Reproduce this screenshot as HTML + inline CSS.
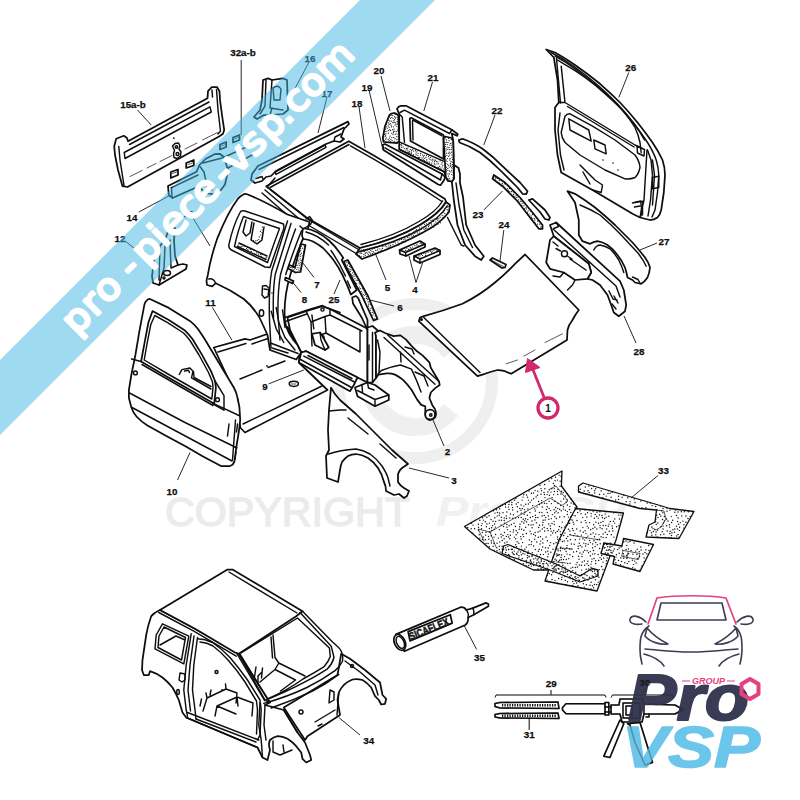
<!DOCTYPE html>
<html lang="fr">
<head>
<meta charset="utf-8">
<title>pro-piece-vsp.com</title>
<style>
html,body{margin:0;padding:0;background:#fff;}
body{width:800px;height:800px;overflow:hidden;position:relative;font-family:"Liberation Sans",sans-serif;}
svg{position:absolute;left:0;top:0;display:block;}
.l{fill:none;stroke:#0e0e0e;stroke-width:1.45;stroke-linecap:round;stroke-linejoin:round;}
.t{fill:none;stroke:#0e0e0e;stroke-width:0.7;stroke-linecap:round;stroke-linejoin:round;}
.k{fill:none;stroke:#0e0e0e;stroke-width:1.6;stroke-linecap:round;stroke-linejoin:round;}
.w{fill:#fff;stroke:#0e0e0e;stroke-width:1.75;stroke-linecap:round;stroke-linejoin:round;}
.ld{fill:none;stroke:#0e0e0e;stroke-width:0.9;}
.n{font-family:"Liberation Sans",sans-serif;font-weight:bold;font-size:9.8px;fill:#0e0e0e;stroke:#0e0e0e;stroke-width:0.25px;text-anchor:middle;}
</style>
</head>
<body>
<svg width="800" height="800" viewBox="0 0 800 800">
<rect width="800" height="800" fill="#fff"/>
<!-- 00_watermark.svg -->
<g id="wm" opacity="1">
<circle cx="415" cy="381" r="77" fill="none" stroke="#efefef" stroke-width="12"/>
<path d="M451 352 A46 46 0 1 0 451 410" fill="none" stroke="#efefef" stroke-width="18"/>
<text x="165" y="525.5" font-family="Liberation Sans, sans-serif" font-size="41.5" fill="#ebebeb" stroke="#ebebeb" stroke-width="1.3" textLength="245" lengthAdjust="spacingAndGlyphs">COPYRIGHT</text>
<text x="436" y="526" font-family="Liberation Sans, sans-serif" font-size="42" font-style="italic" font-weight="bold" fill="#f1f1f1" textLength="190" lengthAdjust="spacingAndGlyphs">Pro VSP</text>
</g>

<!-- 10_tailgate.svg -->
<g id="p15">
<path class="w" d="M114.2 146.2 L116.2 138.8 L123.8 135.8 L127 138 L128 141.2 L207.5 98.2 L208 91.2 L211.8 87 L217 87 L219.5 91.2 L220 100 L222 115 L224.2 130 L223 133.8 L219.5 136.2 L127.5 187 L122.5 186.2 L118 170 L115 155 Z"/>
<path class="l" d="M129.5 144.5 L209 102"/>
<path class="l" d="M124.2 152.5 L210 106.8 L211.2 112 L125 158.5 Z"/>
<path class="l" d="M118.8 146.5 L120 160 L124 185.5"/>
<path class="l" d="M212 90 L212.5 97 M216.5 89.5 L218 110 L220.5 131 L218 134"/>
<path class="t" stroke-width="0.9" d="M160 161.5 L172 155.5 M185 149 L197 143 M202.5 140 L217.5 132.5 M130 176.5 L142 170.5 M147 168 L156 163.5"/>
<path class="l" d="M172.5 146 L175 143.5 L178.5 143 L180 146 L179 149 L181 152 L180.5 156 L177 158.5 L174 157.5 L173.5 153.5 L174.5 150.5 Z"/>
<circle class="l" cx="176.5" cy="147" r="1.2"/><circle class="l" cx="177.5" cy="154" r="1.5"/>
<circle cx="173.8" cy="138.2" r="0.9" fill="#1c1c1c"/>
<!-- 32 squares -->
<path class="w" d="M170.8 172 L178 169.5 L178 175 L170.8 178 Z M186.2 163 L193.8 160 L193.8 165.5 L186.2 168 Z M220 144.5 L226.2 142 L226.2 147 L220 149.5 Z M233 137.5 L239.5 135 L239.5 140 L233 142.5 Z"/>
<path class="t" d="M172.5 173.5 L177 172 M188 164.5 L192.5 163 M221.5 146 L225 144.7 M234.5 139 L238.5 137.5"/>
<!-- 14 bracket -->
<path class="w" d="M168 186 L168.8 195 L172.5 198 L199.5 186 L202.5 190.5 L207 193.5 L213 194.2 L220.5 190.5 L225 184.5 L228 171 L226.5 165 L223.5 156.8 L219.8 153.8 L214.5 154.2 L205.5 159 L199.5 165 L196.5 171.8 Z"/>
<path class="l" d="M171 187.8 L198 175 M171.5 188 L172 196.5 M223.5 157.5 L255 143.2 M228 168 L256 153 M200 166.5 L204 172 L207 186 L212 190 M203 163 L222 158"/>
</g>

<!-- 12_roof.svg -->
<g id="p16">
<path class="w" d="M263 80 L268 78.4 L272 80 L283 78.4 L287 80 L288 110 L283 114 L270 115 L264 115 L257 119 L254 117 L260 110 L262 100 Z"/>
<path class="l" d="M266 80 L265 106 L260 114 M272 80 L270 108 L283 110 M273 88 Q278 84 281 89 L280 100 L274 100 Z M272 108 L270 115"/>
</g>
<g id="p17">
<path class="w" d="M252 174 L258 166 L348 121.6 L349 124 L344 129 L341 137 L344 139 L340 142 L334 141 L326 144 L276 171 L271 176 L266 177 L262 181 L255 183 L251 180 Z"/>
<path class="l" d="M259 169.5 L344 127.5 M275 172 L325 145 L326 147.4 L276 174.4 Z M256 178.5 L262 176.5 L263 179 M334 141 L335 137 L341 134"/>
</g>
<g id="p18">
<!-- roof -->
<path class="w" d="M348.8 141.2 L266.2 186.2 L307 218 L360 248 Q395 240 420 225 Q440 213 446 202 L445 199 Q400 170 348.8 141.2 Z"/>
<path class="l" d="M349 144.5 L270 187.5 M350.5 145.8 Q400 173.5 442 201.5 M271 190 L309 220 L361 251 M361 244.5 Q395 236 419 221.5 Q437 211 442.5 201"/>
<!-- side rail under roof -->
<path class="l" d="M265 190 L303 222 L357 254 M262 193 L300 226 M268 186 L275 178"/>
<!-- header 5 -->
<path class="w" d="M360 248 Q395 240 420 225 Q440 213 446 202 L450 205 L449 212 Q440 224 422 233 Q398 246 362 259 L356 254 Z"/>
<path class="l" d="M358 252 Q396 243 421 229 Q441 217 447 206"/>
</g>
<g id="p4">
<path class="w" d="M399.5 250 L420 241 L425 244 L425 247 L406 256 L400 254 Z"/>
<path class="w" d="M414 256 L435 248 L440 250.5 L440 254.5 L420 263 L414 260 Z"/>
<path class="l" d="M399.5 250 L405.5 252.5 L425 244 M405.5 252.5 L406 256 M414 256 L420 259 L440 250.5 M420 259 L420 263"/>
</g>

<!-- 14_br12.svg -->
<g id="p12">
<path class="w" d="M169 229 L175 228 L174 240 L175 256 L178 265 L183 264 L187 265 L186 269 L159 285 L153 283 L152 276 L154 260 L158 248 L165 240 Z"/>
<path class="l" d="M160 246 L159 280 M165 246 L164 268 M170 240 L171 268 M164 268 L159 285 M171 268 L178 265"/>
<ellipse class="l" cx="167" cy="273" rx="3.5" ry="2.5"/>
<circle class="l" cx="164" cy="278" r="1"/>
</g>

<!-- 20_body.svg -->
<g id="floor">
<!-- floor panel 11 -->
<path class="w" d="M213.8 347.5 L245 338.8 L250 340 L287.5 327 L300 352 L298.8 362.5 L327.5 390 L245 432.5 L240.5 428 L239 420 L238 400 Z"/>
<path class="l" d="M218 352 L246 343.5 M252 344 L268 338.5 M240 379 L262 370 M268 367.5 L285 361 M243 424 L322 386"/>
<ellipse class="l" cx="293.8" cy="383.8" rx="4.6" ry="2.6"/>
<path class="t" d="M291 384 L296 384"/>
<circle cx="267" cy="366" r="0.9" fill="#1c1c1c"/>
</g>
<g id="rearfloor">
<!-- rear bulkhead & box -->
<path class="w" d="M287.5 317.5 L306.2 311.2 L322.5 306.2 L330 309 L367.5 328.8 L367.5 382.5 L357.5 377.5 L306.2 351.2 L301.2 352.5 L290 330 Z"/>
<path class="l" d="M306.2 311.2 L311 322 L312 346 M311 322 L325 316.5 L330 315 L362 331 M325 316.5 L326 333 L360 352 M326 333 L312 338 M330 315 L330 309 M317.5 333.8 L323.8 336.2 L325 347.5 L319 345 Z M360 352 L360 331"/>
<circle class="l" cx="322.5" cy="309.5" r="1.6"/>
</g>
<g id="quarter">
<!-- rear quarter panel 13 -->
<path class="w" d="M246.4 194 Q243 193.5 237.6 199.2 Q228 212 217.5 237.8 Q210.5 258 207.9 274.5 L206.5 280.6 L207 285 L212.2 286.4 L215.8 283.2 Q231 290 243.8 299 Q257 310 263 325 L267.5 335 L270 350 L296.2 359.5 L301.2 352.5 L297.5 345 Q287 333 285 322 Q283 300 290 276 Q297 250 308 228 L309.5 222 L287.5 214.5 Q262 200 246.4 194 Z"/>
<!-- bump lamp -->
<path class="l" d="M208.8 279 Q213 277.5 215.8 283.2"/>
<!-- window outer/inner -->
<path class="l" d="M240 212.5 Q241 210 245 211 L283.5 224 L284 228 Q277 247 270 267.5 L265 267 L231.5 250 Q228 248 229 244 Q233 226 240 212.5 Z"/>
<path class="l" d="M243.5 216.5 L279.5 228.5 Q273 246 267.5 262.5 L234.5 246.5 Q238 230 243.5 216.5 Z"/>
<!-- interior seen through window -->
<path class="l" d="M246 220 L243 232 L246 236 L250 233 L252 222 M254 223 L251 240 L257 244 L262 240 L264 227 M237.5 246.5 L266 259.5 M239 243 L267 256"/>
<!-- B pillar lines -->
<path class="l" d="M287.5 221 Q279.5 247 271.7 271 Q268.5 290 269.5 320 L271 348 M291 223.5 Q283 249 275.2 274.5 Q272.5 292 273.5 318 M295.5 229 Q287 252 280.5 274.5 Q277.5 292 278 316 L280 340 M301.5 230.8 Q293 252 285.7 274.5"/>
<!-- B pillar top notch -->
<path class="l" d="M306 219 L309.5 216.5 L312.5 220.5 L310.5 224.5 L303 229 L300 226"/>
<!-- striker -->
<path class="l" d="M262.5 286 L262 295 L264.5 298 L268 296.5 L269 288 L266 285.5 Z M264 289 L267.5 289.5"/>
<ellipse class="l" cx="261.5" cy="313" rx="2.2" ry="3.3"/>
<circle cx="272" cy="293" r="0.8" fill="#1c1c1c"/>
<!-- bottom foot lines -->
<path class="l" d="M270.5 343 L298 353.5 M282.5 310 L285 327.5"/>
</g>
<g id="extra1">
<path class="k" stroke-width="2" d="M285 317.500 L307.500 310 L322.500 305.600 L326.200 307.500 L340 312.500"/>
<path class="l" d="M286.200 321.200 L307.500 313.800 M311.900 315 L313.800 328.800"/>
<path class="w" stroke-width="1.3" d="M311.900 333.800 L320 332.500 L322.500 336.200 L328.800 347.500 L325 350 L315 345 Z"/>
<path class="l" d="M320 332.500 L321 340 L325 350 M271.200 311.200 L276.200 328.800 L283.800 342.500 M276.200 307.500 L278.800 322.500 L285 337.500 L295 350 M272 348 L288 353"/>
</g>
<g id="p7">
<path class="w" d="M300.8 244 L305.5 245 L300.5 272 L295.5 272.5 L288 268.5 L289.5 265 L295 267.5 Z"/>
<path class="w" d="M285.5 277.5 L293.5 281 L292.5 283.5 L285 280 Z"/>
</g>
<g id="apillar">
<!-- 25 upper band -->
<path class="w" d="M302.8 229.2 Q303.5 228 305 228.5 Q311 229 317 232.2 Q323.5 235.5 329 240.5 Q335 246 339.5 252.5 L343.2 257.8 L341.8 260 L356.8 290 L350.8 294.5 Q347 284 342.5 275 Q338.5 267 333.500 260 Q328.500 253.500 323 248 Q318 244 312.500 241.2 Q308 239.500 303.500 239 Q302 237 302 234.500 Z"/>
<path class="l" d="M306 232 Q318 235 328.5 245 M331 250.5 Q339 262 345.5 276 M347.5 281 L350.5 288"/>
<!-- 25 lower -->
<path class="w" d="M352.2 297.5 L356 296 L358.2 298.2 L367.5 320 L367.5 330 L362 318 L353 303.5 Z"/>
<!-- 6 strip -->
<path class="w" d="M344 261.500 L347.8 260 L368 296 L377.5 319 L373.5 320.5 L362 296 L345.500 266 Z"/>
<!-- hinge pillar -->
<path class="w" d="M367.5 327.5 L372.5 326 L380 332.500 L376 336 L376 378 L372.5 382.5 L367.5 382.500 Z"/>
<path class="l" d="M372.5 332.500 L372.5 382 M369 345 L369 360"/>
<!-- lower box -->
<path class="w" d="M355 387.500 L367.500 382.500 L375 385 L388.8 395 L388.8 400 L375 406.2 L357.500 396.2 Z"/>
<path class="l" d="M357.5 390.500 L375 399.500 L388.8 395 M375 399.500 L375 406.2 M362 385 L362.500 392 M367.500 382.500 L368.500 388 L374 390"/>
</g>
<g id="sill">
<path class="w" d="M301.2 352.500 L306.2 351.2 L357.500 377.500 L353.8 385 L350 391.2 L298.8 362.500 Z"/>
<path class="l" d="M303.8 356.2 L354.5 382 M300.5 359.5 L351.500 387.500 M308 355.5 L352 378.5"/>
</g>
<g id="wing2">
<path class="w" d="M375 332.500 L380 330.500 L385 333 L393.600 336.100 L400.500 335.400 L406 339.600 L411.500 345.800 L417 351.300 L422.500 355.400 L429.400 362.300 L430.800 367.800 L439 381.500 L439.700 385 L434.900 388.400 L430.800 392.500 L429.400 398 L432.200 404.900 L434.900 409 Q437 413.500 435 417.500 Q432.500 420.500 429 420 Q425.500 418.500 425.300 414 L425.300 406.300 L421.200 404.900 L417 399.400 L411.500 389.800 Q407.500 384.500 403.300 380.200 Q399 376.500 395 374.600 Q391 373 386.800 373.300 L378.500 374.600 L376 378 L376 336 Z"/>
<path class="l" d="M387.500 334.800 L439 381.500 M384 337.500 L435 384.300 M378 374 L381.300 370.500 Q391 366.500 400.500 365 L411.500 369.100 L417 381.500 L421 392 M405 347 L412 349 L414 354 M400.500 352 L401 362 M415 372 L424 376 L428 386 M377.500 340 L380 352 L379 372"/>
<circle class="w" cx="430.100" cy="414.500" r="4.900"/>
<circle class="l" cx="430.800" cy="415" r="1.200"/>
</g>

<!-- 30_door10.svg -->
<g id="door10">
<path class="w" stroke-width="1.7" d="M144.400 304.600 Q145.500 301 146.800 300.600 Q148 298.800 150 299 L168.800 307.900 L189.900 320.900 Q194.500 324.500 198 329 L204.500 338.800 L214.200 355 L224 371.200 L233.800 387.500 Q236 391.500 237 395.600 L239.400 407 L240.200 420 L238.800 432 L236.200 448 L234.500 461 Q233.500 465 230 466 L221 466 Q203 457 185 446 Q166 436 147.500 425.500 Q141 421.500 136.500 416.500 Q133 412.500 131.400 407.500 L128.900 398 L128.900 390 L131.400 374.500 L135.400 355 L139.500 330.600 Z"/>
<!-- window -->
<path class="w" stroke-width="1.6" d="M152.500 311.100 L168.800 320 L185 330.600 Q189 334.500 192.300 338.800 L201.200 353.400 L211 371.200 L215 381 L215.900 387.500 L214.200 403.800 L168.800 377.800 L141.100 361.500 L144.400 343.600 L148.400 322.500 Z"/>
<path class="l" d="M154.800 315.500 L168 322.800 L183.500 333 Q187 336.500 190 340.500 L199 355 L208.500 372.500 L212.500 382 L213 387.500 L211.800 399 L168.800 374.500 L144.200 360 L147 344 L150.800 324.500 Z"/>
<!-- mirror patch -->
<path class="l" d="M215 381 L224 395.600 L224 410.200 L212.600 403.800"/>
<!-- through window: seat -->
<path class="l" d="M179.300 374.500 L181.800 369.600 L189.900 368 L193 371.200 L191.500 377.800 L211 389 M193.500 371.500 L194 377.500 L211 386.500 M184.500 371 L188.500 370.200 L189.500 372.500"/>
<!-- belt and creases -->
<path class="l" d="M131.500 359 L141.100 361.500 M142 364.500 L213 405.500 M214.200 403.800 L239 415.500 M129.500 393 L185 422.500 L237 448 M132 407.500 L232 461 M235.500 420 L232.500 460 M229 424 L227.500 436"/>
<circle class="l" cx="135.400" cy="372.900" r="1.900"/>
<circle class="l" cx="217.500" cy="399.700" r="1.900"/>
<path class="l" d="M237.500 424 L236.500 432 M236 452 L235 459"/>
</g>

<!-- 32_fender3.svg -->
<g id="fender3">
<path class="w" d="M331 387.600 Q334 394 340 400 Q348 407 356 414 L374 432 L392 450 L408 464 L402 468 Q399 470.500 398 474 L398 482 Q400 485.500 404 488 L409 491 L407 496 L404 498 L399 494 L394 495 L386 491 Q386 486 384 482 Q382 474 378 468 Q374 462 368 458 Q362 454.500 356 454 Q351.500 454 348 456 Q344.500 458.500 342 462 Q340.500 466 340 470 L338 482 L327 478 L326 456 L329 450 L328 430 L329 410 Z"/>
<path class="l" d="M328.500 454 Q340 450 356 449 Q363 450 370 454 Q377 459 382 466 Q386.500 473 388 478 L390 486 M348 418 L368 434 M380 444 L396 458 M329 411 L340 410 L346 410"/>
</g>

<!-- 34_hood.svg -->
<g id="hood">
<path class="w" d="M525 254.500 L578.800 310 Q575 315 572.500 320 Q568.500 325 567.500 330 L567 340 L511.200 373.800 Q508 372.5 505 371.2 Q501 370 497.500 370 Q491 371.500 485 373.800 L477.500 376.200 L418.800 321.200 L420 317.500 L423.800 316.200 Q443 311 462.500 303.800 Q480 295 495 282.500 Q506 273.500 515 263.800 Z"/>
<path class="l" d="M423.800 317.500 L480 372.500"/><path class="t" stroke-width="0.9" d="M506.200 363.800 L517.500 360 M523.800 356.200 L535 350 M545 342.500 L562.500 333.800"/>
<circle class="l" cx="421.5" cy="319.5" r="0.8"/>
</g>
<g id="arrow1">
<path d="M544.500 398.500 L531.500 366" stroke="#d12a6c" stroke-width="2.8" fill="none"/>
<path d="M527.500 358.500 L525.500 372.500 L540 367.500 Z" fill="#d12a6c" stroke="#d12a6c" stroke-width="1" stroke-linejoin="round"/>
<circle cx="548" cy="408" r="10" fill="#fff" stroke="#d12a6c" stroke-width="3.300"/>
<text x="548" y="411.600" font-family="Liberation Sans, sans-serif" font-weight="bold" font-size="10" text-anchor="middle" fill="#0e0e0e">1</text>
</g>

<!-- 40_frame21.svg -->
<g id="p21">
<!-- curved pillar down -->
<path class="w" d="M454 165 L458.500 168 L460 174 L460 183 L463 197 L466.200 225 L475 245 L483.800 256.200 L481.200 260 L475 256.200 L465 245 L457.500 225 L453.800 200 L451.800 181.500 Z"/>
<path class="l" d="M456 183 L459 205 L463.800 230 L472.500 247.500 M447.500 217.500 L461.200 245 L463.800 246.200"/>
<!-- main frame body -->
<path class="w" d="M397 108.800 Q398.500 106 400.800 105.800 L406 105.800 L451.800 129.800 L457.800 134.200 L457 135.800 L451.800 133.500 L453.200 141 L454 178.500 L451.800 181.500 L448 180.800 L445.800 177 L444.200 171.800 L399.200 149.200 L399.200 114 Z"/>
<path class="l" d="M400 112.500 L404.500 110.200 L449.500 133.500 L451.800 129.800 M399.200 114 L402.200 117 L404.500 142.500"/>
<!-- window opening -->
<path class="w" stroke-width="1.4" d="M409.800 118.500 L411.200 117.800 L443.500 135 L443.500 159 L410.500 141 Z"/>
<path class="l" d="M412.800 120 L442 135.800 M412.500 121 L413 140"/>
<!-- pillar 20 -->
<path class="w" d="M389.500 114.800 Q392 112.500 394.800 113.200 Q397.500 114 398.500 116.200 L399.200 141 L397 143.200 L383.500 141.800 L382.800 138 L385 126 Z"/>
<!-- right pillar -->
<path class="w" d="M443.500 138 L445 136.500 L451.800 138 L453.200 141 L454 178.500 L451.800 181.500 L448 180.800 L445.800 177 Z"/>
<!-- bottom rail -->
<path class="l" d="M399.200 141.800 L443.500 161.200 M399.200 149.200 L444.200 171.800"/>
<!-- strip 19 -->
<path class="w" d="M382.800 144.800 L385 144 L442 174 L445 177 L444.200 180 L440.500 185.200 L438.200 184.500 L383.500 150 Z"/>
<path class="l" d="M385 147.800 L440.500 180 M442 174 L440.500 180"/>
</g>
<g id="p22">
<path class="w" d="M458.800 140 L462.500 138.800 Q474 143 482.500 148.800 Q493 156.500 502.500 166.200 L520 182.500 L527.500 191.200 L526.200 194.200 L522.500 193.800 L517.500 187.500 L500 170 Q490 160 480 152.500 Q470 146 459.500 142.500 Z"/>
</g>
<g id="p23">
<path class="w" d="M493.800 175 L505 182.500 L520 197.500 L532.500 212.500 L542.500 225 L542.500 228.800 L538.800 228.800 L530 217.500 L517.500 201.200 L502.500 186.200 L492.500 178.800 Z"/>
<path class="w" d="M528.800 200 L532.500 198.800 L545 210 L550 217.500 L548.800 220 L545 219 L540 212 Z"/>
</g>
<g id="p24">
<path class="w" d="M490 260 L492.500 258 L506 264.500 L505 267.500 L502 268 Z"/>
<path class="t" d="M492 260.500 L503.500 266.500"/>
</g>

<!-- 42_door26.svg -->
<g id="door26">
<path class="w" d="M546.200 49.500 L555 52.500 Q565 58 575 65 Q588 74 600 83.800 Q610.500 93 620 102.500 Q629 112 637.500 122.500 Q645.500 132.500 652.500 142.500 Q658.500 151.500 662.500 160 Q665 167.500 665 175 L663.800 192.500 L661.200 210 Q660 215 657.500 217.500 Q654 220 650 220 L640 217.500 L632.500 213.800 L592.500 190 L561.200 172.500 L557.500 155 L555 130 L555 107.500 L558.800 102.500 L557.500 80 L553.800 57.500 Z"/>
<!-- second outer line -->
<path class="l" d="M555 56.200 Q565 61.500 575 68.800 Q587 77.500 597.500 86.200 Q608 95.500 617.500 105 Q626.500 114.500 635 125 Q642 134 647.500 142.500 Q653.500 152 656.200 160 Q658.500 167.500 658.800 175 L657.500 192.500 L655 210 L652 217"/>
<!-- window frame inner -->
<path class="l" d="M557.500 60 L563.800 63.800 Q575 70 585 77.500 Q595.500 85 605 93.800 Q614.500 102 622.500 110 Q630 119 635 127.500 Q638.500 135 640 142.500 L641.200 152.500 M561.200 66.200 L565 102.500 M558.800 102.500 L565 102.500 L635 145 L641 148"/>
<path class="l" d="M567.5 106.5 L634 147"/>
<!-- inner panel: armrest -->
<path class="l" d="M565 116.200 Q567 113.500 570 113.800 L592.500 126.200 L615 140 L635 155 Q639.500 161 640 167.500 Q638.500 174.500 635 177.500 Q630 179.500 625 178.800 L605 170 L580 155 L565 142.500 Q561.500 137.500 561.200 132.500 Z"/>
<path class="l" d="M568.800 118.800 L588.800 130 L591.200 141.200 L570 130 Z M593.800 140 L605 145 L606.200 153.800 L595 148.800 Z"/>
<path class="l" d="M580 165 L595 180 L602.500 185 L601.200 192.500 L592.500 190 M583 172 L590 184"/>
<circle cx="603" cy="160" r="0.8" fill="#141414"/><circle cx="613" cy="163" r="0.8" fill="#141414"/><circle cx="618" cy="170" r="0.8" fill="#141414"/>
<!-- latch / hinge -->
<path class="l" d="M652.500 177.500 L658.800 176.200 L658.800 187.500 L652.500 188.800 Z M635 202.500 L642.500 201.200 L642.500 215 M647 150 L644 200 L640 217"/>
<path class="l" d="M637 146 L644.500 149.500 L644 156 L637.500 153 Z"/>
<path class="l" d="M556.500 58.500 L560.500 103 M551 52.500 Q563 58.500 574 66.500 Q586 75 597 84.500 Q607.500 93.500 617 103.500 Q626 113 634 123.500 Q640 131.500 644.500 140 M647.500 150 L651 160 L652.500 175 L650.500 200 L648 216 M652.500 160 L654.500 175 L652.500 205 M560 113 L558 130 L560.500 155 L564 170 M632.500 203 L640.500 201 L641.500 207 L641 216 M634.500 207 L640 206"/>
</g>

<!-- 44_fender27.svg -->
<g id="fender27">
<path class="w" d="M567.500 191.200 L575 193.800 Q585 200 595 207.500 Q605.500 216 615 225 L632.500 242.500 Q640 251 645 257.500 Q649 263 650 267.500 Q649.500 273 647.500 277.500 Q644.500 282 641.200 283.800 L635 282.500 L632.500 280 L627.500 277.500 Q626.500 272 625 267.500 Q622 260.500 617.500 255 Q612.500 248.500 607.500 245 Q602.500 242 597.500 241.200 Q593.500 242 590 243.800 L582.500 241.200 L578.800 235 L578.800 220 L575 202.500 Z"/>
<path class="l" d="M580 205 Q590 209 600 215 Q610.500 224 620 233.800 L637.500 252.500 Q643.500 260 646.200 266.200 M593.800 250 Q596 245.500 600 245 Q605.500 246 610 248.800 Q615 254 618.800 260 Q622 266.500 623.800 272.500"/>
<path class="l" d="M632.5 277 L638 279.500 L640 283"/>
</g>
<g id="wing28">
<!-- top rail -->
<path class="w" d="M550 225 L556.200 222.500 L620 281.200 L623.800 290 L626.200 305 L625 311.200 L618.800 316.200 L613.800 312.500 L611.200 305 L607.500 295 L600 285 L592.500 280 L587.500 278.800 L591.200 272.500 L588.800 263.800 L553.800 236.200 Z"/>
<path class="l" d="M553 229 L616 286 L620 297 M556.200 222.500 L558.500 226.500 L553.800 228.500 M609 291 L613 299 L617 300 M612 304 L616 309 M614 296 L618 303"/>
<!-- box -->
<path class="w" d="M550 240 L553.800 236.200 L588.800 263.800 L591.200 272.500 L587.500 278.800 L575 280 L563.800 272.500 L550 268.800 L546.200 262.500 Z"/>
<circle class="l" cx="564.500" cy="253.800" r="3"/>
<path class="l" d="M553 242 L558 246 M570 259 L586 270 M560.5 251 L556 248.500 M568 256.500 L572 259 M575 280 L572.500 285 L567.500 290 M563.800 272.500 L560 277 L553 276"/>
</g>

<!-- 50_body34.svg -->
<g id="body34">
<!-- right front wing (behind) -->
<path class="w" d="M341.200 653.800 L350 658.800 L365 670 L380 682.500 L382.500 695 L386.200 698.800 L385 703.800 L381.200 704.500 L378.800 700 L375 696.200 L371.200 687.500 Q367 682.500 362.500 680 Q357 678.500 352.500 679.500 Q347.500 681.500 343.800 685 Q340.500 688.500 338.800 692.500 L337.500 700 L340 715 L307.500 736.200 L305 740 L283.800 707.500 L337.500 675 Z"/>
<path class="l" d="M345 661 L360 672 L375 685 L378 695 M338.800 692.500 L337 715 M330 690 L334 692 L334 700 L329 703 Z M315 722 L335 710 M318 726 L322 724"/>
<circle class="l" cx="301" cy="712" r="2"/>
<circle class="l" cx="352" cy="666" r="1.5"/>
<!-- quarter + side -->
<path class="w" d="M160 610 Q154 612.500 151.200 616.200 Q148 625 146.200 635 L142.500 660 L142 670 L143.800 675 L148.800 675 L150 671.200 Q157 673.500 162.500 677.500 Q168 682 172.500 687.500 Q176 693.500 178.800 700 L182.500 712.500 L186.200 717.500 L257.500 747.500 L262.500 757.500 L267.500 760 L270 750 Q268 744 270 740 Q273.500 737 277.500 736.200 Q283 736.500 287.500 738.800 Q292.500 742 296.200 746.200 L301.200 752.500 L302.500 758.800 L306.200 762.500 L311.200 760 L310 755 L305 742.500 L297.500 732.500 L283.800 710 L265 705 L270 702.500 L238.800 653.800 L195 628.800 Z"/>
<!-- roof -->
<path class="w" d="M160 610 L227.500 569.500 L232.500 569.500 L302.500 611.200 L296.200 616.200 L238.800 653.800 L235 652.500 L195 628.800 Z"/>
<path class="l" d="M158.800 612.500 L193.800 631.200 L236.200 656.200 M229 572 L297 613"/>
<!-- rear window -->
<path class="l" d="M162.500 623.800 L188.800 636.200 L183.800 663.800 L155 648.800 L156.200 635 Z M164 627 L185.500 637.500 L181.500 660 L158 647.500 L159 636 Z M160 645 L176 636 M176 636 L185 640"/>
<!-- B pillar -->
<path class="l" d="M191.200 633.800 L186.200 665 L183.800 690 L186.200 710 L187.500 716.200 M197.500 637.500 L193.800 665 L192.500 690 L195 710 L196 719 M194 636 L190 665 L188 690 L190.500 711"/>
<!-- door opening -->
<path class="l" d="M197.500 638.800 Q205 639 212.500 642.500 Q222 649 230 657.500 Q239 668 247.500 680 L260 700 L261.200 710 L260 735 L257.500 740 M200 642 Q207 642.500 213 646 Q221 652 228 660 Q237 670 245 682 L256.500 701 L257.500 710 L256.500 734"/>
<!-- sill -->
<path class="l" d="M187.500 712.500 L258.800 740 M196 719 L256 742 M186.200 717.500 L257.500 747.500"/>
<!-- A pillar + windshield -->
<path class="l" d="M238.800 653.800 L265 700 L270 702.500"/>
<path class="l" d="M236.500 652.800 L264.700 700.600 Q288 691 305 681.900 Q318 675 327.500 668.800 Q332.500 663.500 334 657.500 L331.200 646.200 L300 612.500 M240.300 654.700 L267.500 698.800 Q288 690 303 679 Q315 672.500 323.800 666.900 Q328.500 662 330.300 656.600 L329.400 648 L297.500 618 L241 653"/>
<path class="l" d="M302.500 611.200 L332.500 642 Q339.500 648 340.600 650 Q343.500 655.500 342.500 661.200 Q340 666.500 335 670.600 Q322 680 306.900 687.500 Q287 697 263.800 703.400 M271.200 708 Q293 700.500 312.500 691.200 Q327 683.500 338.800 674.400"/>
<!-- left A-pillar bottom -->
<path class="l" d="M260 702.500 L258.800 725 L261.200 740 L262.500 757.500 M265 705 L264 725 L266 740 M283.800 710 L297.500 732.500"/>
<!-- interior -->
<path class="l" d="M273 635 L275 657.500 L278.800 663 L305 676 M271 637 L272.500 658 M260 682 L275 669.500 L295.500 680 L280.500 691 M275 669.500 L278.800 663 M262 672 L258 676 L258 684 M256 667 L254 680 M262.500 668 L261.500 678"/>
<path class="l" d="M203 711 L207 698 L226 689 L237 693 L236 703 M207 698 L206 693 M226 689 L225.500 684 M215 716 L217 706 L237 697 L253 703 L252 716 M237 697 L238 706 M217 706 L236 714 M200 706 L201.500 699 M210 695 L211 690"/>
<circle class="l" cx="216.500" cy="672" r="1.500"/>
<circle cx="222" cy="690" r="0.900" fill="#0e0e0e"/>
<!-- quarter details -->
<path class="l" d="M180 673 L179 680 L182 682 L185 680 L185 674 Z"/>
<ellipse class="l" cx="178" cy="692" rx="1.300" ry="2.500"/>
<!-- left wheel arch inner -->
<path class="l" d="M273 741 L273 752 L280 755 L292 750 M283 745 L284 752"/>
</g>

<!-- 60_mats.svg -->
<g id="mats33">
<g fill="#fff" stroke="#0e0e0e" stroke-width="1.3" stroke-linejoin="round">
<path d="M464.500 526.500 L562 471 L561.400 486 L577 507 L563.500 540 L559 570 L533.500 570 L490 549 Z"/>
<path d="M575.500 508.500 L623.500 513 L616 540 L597 591 L545 581 L559 540 Z"/>
<path d="M503.500 546 L508 544.500 L556 564 L580 576 L592 568.500 L598 570 L598 576 L580 582 L550 570 L502 553.500 Z"/>
<path d="M578.500 486 L583 483 L655 504 L670 508.500 L694 511.500 L679 538.500 L646 537 L649 525 L655 522 L656.500 510 L640 508.500 L578.500 492 Z"/>
<path d="M604 543 L622 546 L623.500 538.500 L653.500 544.500 L640 571.500 L613 564 L614.500 556.500 L601 553.500 Z"/>
</g>
<path class="t" d="M490 532 L550 498 L562 505.500 L568 501 L556 486 L550 489 M490 532 L478 529 L484 541 M490 532 L496 547 M623.500 550.500 L640 553.500 L638.500 559.500 L622 556.500 Z M628 552.500 L627 557.500 M560 548 L572 549 M556 562 L566 563 M656.500 510 L664 511 L666 519 L661 527 L656 530 L652 528 M570 535 L600 540"/>
</g>

<!-- 62_tube35.svg -->
<g id="tube35">
<path class="w" d="M395.900 634.400 L460.600 607.200 Q464.500 607 466.300 610 L472.800 608.100 L485.900 602.900 L488.400 604 L488.400 606.300 L473.800 614.700 L468.100 617.500 Q468.500 622.500 465.300 625 L404.400 651.300 Z"/>
<ellipse class="w" cx="399.800" cy="642.400" rx="5.300" ry="8.400" transform="rotate(-25 399.8 642.4)" stroke-width="1.8"/>
<ellipse class="l" cx="400.300" cy="642.400" rx="3.600" ry="6.400" transform="rotate(-25 400.3 642.4)"/>
<path class="l" d="M466.300 610 Q469 613 468.100 617.500 M472.800 608.100 Q474.500 611 473.800 614.700"/>
<path class="w" d="M408.100 631.600 L450.300 614.700 L452.200 623.100 L410 640.900 Z" stroke-width="1"/>
<text transform="translate(410.8,640.2) rotate(-22)" font-family="Liberation Sans, sans-serif" font-weight="bold" font-size="10.5" fill="#141414" stroke="#141414" stroke-width="0.55" textLength="42" lengthAdjust="spacingAndGlyphs">SICAFLEX</text>
</g>

<!-- 64_tool.svg -->
<g>
<path class="ld" d="M495 697.500 L496 695 L605 695 L606 697.500 M551 690 L551 695 M611 697.500 L612.500 695 L672 695 L673 697.500 M645 688 L645 695 M529.200 730 L529.200 718.800"/>
<!-- nozzles -->
<path class="k" d="M495 703.500 L500 702.500 L558 702 L559 708.500 L500 708 L495 706.500 Z M495 714.500 L500 713.500 L558 713 L559 718.500 L500 718 L495 717 Z" stroke-width="1"/>
<path d="M502 705.300 L556 705.300 M502 715.800 L556 715.800" stroke="#141414" stroke-width="2.4" stroke-dasharray="1.2 1.3" fill="none"/>
<!-- cartridge -->
<path class="k" d="M562.500 707.500 L566 703.800 L605 703.800 L605 713.800 L566 713.800 L562.500 710 Z M605 702.500 L608.800 702.500 L608.800 715 L605 715 Z"/>
<!-- gun -->
<path class="k" d="M620 699 L642.500 699 L644 704 L675 705 L683 709.500 L675 714 L644 714 L642 722 L622 722 L620 714 L611 714 L611 705 L619 705 Z"/>
<path class="l" d="M623 703 L640 703 L640 718 L623 718 Z M626 706 L632 706 L632 715 L626 715 Z M644 704 L644 714 M611 707 L605 707 M611 712 L605 712 M646 717 L649 717 L649 714"/>
<path class="k" d="M627.500 723.800 L640 722.500 L652.500 762.500 L645 765 L635 742.500 L630 725 Z"/>
<path class="k" d="M620 720 L623.800 723.800 L610 757.500 L603.800 756.200 Z"/>
</g>

<!-- 70_dots.svg -->
<g id="dots">
<path d="M515.4 526.4h.01M568.5 517.1h.01M521.6 529.2h.01M485.3 521.7h.01M535.4 549.5h.01M538.1 531.9h.01M514.1 554.4h.01M522.9 534.4h.01M520.7 536.6h.01M515.9 498.5h.01M559.0 541.1h.01M550.7 510.6h.01M559.7 509.3h.01M574.8 510.3h.01M472.7 533.3h.01M552.1 497.7h.01M554.2 488.6h.01M527.4 515.3h.01M486.0 543.5h.01M479.2 534.7h.01M560.6 534.5h.01M551.4 503.6h.01M474.6 528.7h.01M491.8 530.5h.01M506.3 515.9h.01M529.1 556.8h.01M547.7 564.1h.01M563.7 530.7h.01M491.3 540.8h.01M531.6 500.1h.01M527.4 555.4h.01M533.6 498.7h.01M542.3 528.9h.01M543.4 566.3h.01M518.8 543.3h.01M473.0 525.1h.01M547.4 560.1h.01M547.4 540.7h.01M553.7 561.6h.01M504.1 538.8h.01M511.4 549.3h.01M561.6 527.7h.01M534.8 508.9h.01M530.1 531.3h.01M546.4 509.5h.01M547.2 528.5h.01M543.1 520.2h.01M533.6 562.1h.01M498.4 538.1h.01M514.2 559.3h.01M501.3 536.9h.01M563.5 509.1h.01M530.1 502.3h.01M479.8 520.2h.01M558.7 555.0h.01M534.9 519.9h.01M544.2 527.5h.01M499.3 549.4h.01M557.8 494.5h.01M535.3 515.2h.01M535.4 535.8h.01M555.3 565.9h.01M541.5 490.7h.01M544.8 488.7h.01M542.9 522.5h.01M533.6 545.9h.01M508.8 549.4h.01M506.9 527.3h.01M570.7 516.9h.01M537.8 491.3h.01M545.7 552.0h.01M536.7 542.0h.01M524.9 549.3h.01M560.8 505.5h.01M526.4 547.1h.01M555.5 477.3h.01M502.2 549.0h.01M522.6 542.6h.01M570.9 519.8h.01M489.4 523.1h.01M497.1 543.2h.01M536.4 522.8h.01M559.4 526.4h.01M499.6 508.7h.01M559.6 560.2h.01M529.0 490.9h.01M524.8 520.8h.01M527.8 519.6h.01M525.1 512.0h.01M494.8 517.8h.01M556.3 560.2h.01M518.1 502.4h.01M486.0 532.2h.01M541.8 502.9h.01M504.5 532.4h.01M524.2 514.2h.01M506.8 511.9h.01M560.3 531.6h.01M560.9 494.0h.01M547.8 551.2h.01M566.1 502.3h.01M491.4 542.9h.01M558.1 512.7h.01M553.4 483.5h.01M509.8 538.8h.01M541.3 561.2h.01M521.4 546.1h.01M521.1 538.9h.01M526.6 522.0h.01M559.0 569.0h.01M516.5 546.7h.01M501.3 517.2h.01M543.4 554.6h.01M484.9 515.9h.01M535.3 511.0h.01M532.0 520.9h.01M548.2 548.0h.01M556.1 511.2h.01M542.7 547.0h.01M539.4 504.4h.01M538.7 527.4h.01M524.5 509.6h.01M493.4 510.8h.01M482.5 517.7h.01M483.5 520.1h.01M570.8 512.6h.01M523.8 530.2h.01M512.8 518.3h.01M523.4 563.8h.01M545.8 517.4h.01M514.3 537.1h.01M530.0 512.5h.01M552.0 523.5h.01M547.1 494.6h.01M552.7 532.9h.01M531.1 533.7h.01M549.3 489.8h.01M495.0 513.1h.01M526.4 533.5h.01M506.5 518.4h.01M548.3 554.0h.01M555.5 532.7h.01M551.0 492.1h.01M555.6 507.5h.01M538.0 568.9h.01M501.1 525.3h.01M512.6 507.6h.01M541.6 500.6h.01M551.7 478.5h.01M488.5 536.5h.01M504.8 542.9h.01M567.3 514.4h.01M554.8 501.2h.01M505.6 507.0h.01M509.0 509.4h.01M486.4 526.8h.01M554.2 524.5h.01M563.6 498.9h.01M525.7 527.2h.01M537.5 495.3h.01M489.3 546.8h.01M508.9 504.4h.01M520.0 524.2h.01M567.4 511.6h.01M557.5 537.0h.01M560.5 550.8h.01M554.8 512.7h.01M547.9 569.1h.01M551.8 488.8h.01M530.2 561.0h.01M531.4 493.2h.01M556.4 518.5h.01M567.4 504.9h.01M526.1 565.7h.01M506.3 549.9h.01M544.7 531.0h.01M562.3 522.1h.01M494.5 523.9h.01M545.1 480.6h.01M518.5 517.4h.01M561.0 501.1h.01M557.5 491.6h.01M517.1 541.8h.01M544.4 494.5h.01M554.4 491.5h.01M506.8 524.4h.01M508.6 537.0h.01M546.8 503.6h.01M557.5 480.1h.01M540.7 541.1h.01M558.7 529.7h.01M550.8 552.3h.01M503.0 535.4h.01M521.8 549.1h.01M557.3 531.5h.01M566.1 525.3h.01M504.2 520.5h.01M535.1 490.6h.01M529.4 540.0h.01M527.5 497.2h.01M491.6 527.8h.01M558.0 489.4h.01M538.6 501.5h.01M540.0 544.0h.01M507.4 529.6h.01M486.9 517.3h.01M523.0 497.1h.01M528.4 503.9h.01M540.0 485.3h.01M517.4 511.7h.01M534.7 539.2h.01M549.8 545.4h.01M510.5 514.0h.01M523.7 523.0h.01M549.1 501.2h.01M521.0 510.3h.01M523.7 494.7h.01M539.4 556.8h.01M478.4 524.2h.01M499.1 520.3h.01M544.7 484.4h.01M542.8 563.8h.01M539.3 549.3h.01M506.4 536.5h.01M495.6 534.4h.01M514.0 523.3h.01M549.5 495.3h.01M521.4 554.7h.01M514.0 547.5h.01M553.0 549.3h.01M491.0 519.4h.01M489.4 528.4h.01M531.6 541.8h.01M513.4 514.7h.01M494.1 550.1h.01M528.5 524.8h.01M553.6 494.6h.01M494.3 529.3h.01M482.5 539.4h.01M558.0 548.9h.01M515.7 544.7h.01M526.6 494.9h.01M505.4 504.4h.01M564.2 516.8h.01M508.7 554.5h.01M499.2 515.3h.01M561.6 491.3h.01M542.3 506.9h.01M545.0 497.6h.01M569.9 506.6h.01M550.6 542.6h.01M499.6 513.0h.01M546.1 537.0h.01M528.2 551.1h.01M488.8 539.2h.01M539.5 565.6h.01M512.6 509.9h.01M501.4 520.2h.01M509.8 518.0h.01M483.3 536.9h.01M503.0 512.8h.01M481.5 528.7h.01M508.5 507.1h.01M530.4 517.4h.01M564.8 527.0h.01M494.0 537.1h.01M533.7 565.5h.01M535.1 532.5h.01M541.0 494.2h.01M527.6 553.3h.01M573.5 504.0h.01M499.8 541.9h.01M542.7 539.0h.01M482.4 532.5h.01M519.7 526.8h.01M548.8 523.9h.01M551.4 518.6h.01M493.1 521.2h.01M554.1 509.8h.01M502.1 546.2h.01M530.4 564.2h.01M541.9 512.5h.01M525.5 518.8h.01M554.6 554.0h.01M496.4 509.8h.01M542.6 525.0h.01M554.5 485.5h.01M504.9 545.6h.01M523.8 551.2h.01M553.6 543.8h.01M538.4 551.3h.01M547.9 491.9h.01M541.0 488.6h.01M571.1 502.9h.01M533.8 558.9h.01M542.1 515.9h.01M539.4 512.5h.01M532.1 527.7h.01M509.7 556.9h.01M554.2 521.6h.01M562.4 541.5h.01M560.7 547.3h.01M526.3 560.7h.01M547.3 506.7h.01M512.3 552.2h.01M569.5 509.4h.01M548.1 530.5h.01M565.2 495.9h.01M511.8 504.8h.01M531.0 525.0h.01M517.3 506.8h.01M540.0 530.9h.01M543.4 569.8h.01M548.0 479.3h.01M478.5 527.2h.01M522.1 500.1h.01M489.0 515.7h.01M560.2 481.3h.01M560.1 486.3h.01M510.2 531.6h.01M482.1 523.6h.01M536.8 554.9h.01M538.1 558.8h.01M520.9 560.5h.01M471.4 523.3h.01M548.8 519.3h.01M531.3 566.1h.01M561.3 510.8h.01M558.0 503.5h.01M500.2 552.1h.01M526.6 562.8h.01M547.4 512.4h.01M541.0 568.4h.01M552.4 514.6h.01M549.1 508.4h.01M539.5 525.3h.01M524.8 554.1h.01M493.9 543.3h.01M507.0 541.9h.01M513.2 532.1h.01M549.2 481.1h.01M555.1 480.7h.01M486.9 524.0h.01M550.5 528.7h.01M495.7 521.4h.01M533.1 524.8h.01M538.7 562.0h.01M467.8 527.5h.01M523.8 506.1h.01M502.3 540.5h.01M557.8 539.2h.01M553.8 567.6h.01M502.2 505.3h.01M491.3 535.8h.01M531.2 544.4h.01M518.0 552.0h.01M479.8 538.1h.01M499.3 546.3h.01M568.5 520.9h.01M528.4 500.1h.01M516.2 530.7h.01M559.7 517.0h.01M517.7 532.8h.01M500.2 506.3h.01M511.4 524.5h.01M516.3 503.9h.01M567.3 494.1h.01M571.1 499.1h.01M503.5 526.4h.01M522.3 508.5h.01M521.2 513.2h.01M521.1 504.9h.01M541.6 549.9h.01M485.4 539.7h.01M552.9 557.5h.01M485.6 535.1h.01M567.0 499.8h.01M523.3 519.3h.01M504.5 523.2h.01M550.3 526.0h.01M536.6 563.9h.01M481.4 525.6h.01M550.8 535.1h.01M529.0 544.7h.01M519.2 529.2h.01M544.2 515.4h.01M515.7 517.9h.01M538.3 537.2h.01M533.5 492.9h.01M471.2 528.7h.01M556.9 553.9h.01M495.4 527.1h.01M497.0 550.8h.01M532.7 516.6h.01M528.6 565.4h.01M557.7 508.6h.01M556.6 556.1h.01M563.3 492.6h.01M489.6 532.3h.01M544.0 492.4h.01M532.0 556.4h.01M499.4 529.6h.01M521.2 517.4h.01M548.3 516.0h.01M509.2 525.7h.01M525.7 504.3h.01M536.1 497.0h.01M556.1 542.7h.01M527.9 508.9h.01M545.2 519.9h.01M575.1 507.8h.01M517.1 554.6h.01M547.8 556.7h.01M511.9 502.5h.01M509.2 502.0h.01M532.4 552.6h.01M496.8 547.7h.01M535.7 517.4h.01M521.8 521.5h.01M497.1 516.1h.01M514.5 500.2h.01M537.8 517.5h.01M492.5 525.6h.01M542.9 543.0h.01M537.0 507.1h.01M551.1 531.2h.01M510.3 535.2h.01M540.6 554.5h.01M507.9 534.6h.01M493.1 546.2h.01M504.2 517.9h.01M553.6 530.7h.01M545.5 547.8h.01M515.7 538.8h.01M544.5 503.3h.01M497.4 512.5h.01M519.8 508.4h.01M563.4 506.7h.01M561.0 476.2h.01M569.7 523.3h.01M513.5 530.0h.01M516.2 534.7h.01M532.7 505.6h.01M488.1 543.4h.01M559.1 475.1h.01M523.6 536.6h.01M501.0 534.3h.01M540.5 536.8h.01M554.8 516.8h.01M555.9 569.0h.01M533.6 534.2h.01M565.4 510.3h.01M478.5 530.2h.01M556.2 547.2h.01M600.0 557.6h.01M557.4 555.3h.01M594.0 558.4h.01M585.1 530.7h.01M568.7 558.6h.01M570.1 563.3h.01M564.9 576.5h.01M619.5 519.0h.01M601.3 552.0h.01M549.8 581.6h.01M609.3 549.4h.01M580.0 510.8h.01M599.9 511.7h.01M586.3 584.8h.01M598.2 518.1h.01M601.6 566.4h.01M570.8 572.2h.01M590.4 542.6h.01M567.5 581.8h.01M573.8 524.2h.01M591.2 513.6h.01M583.8 543.1h.01M569.6 576.7h.01M586.8 517.0h.01M613.6 512.7h.01M600.1 527.7h.01M598.9 577.2h.01M602.1 528.7h.01M587.5 512.7h.01M574.0 583.6h.01M572.8 515.3h.01M579.0 559.3h.01M596.7 516.5h.01M579.7 575.2h.01M564.2 540.9h.01M588.5 552.8h.01M560.6 548.2h.01M567.1 554.1h.01M552.0 565.7h.01M577.7 512.6h.01M558.3 568.4h.01M618.9 525.7h.01M551.6 574.8h.01M592.6 547.8h.01M554.0 561.5h.01M591.6 561.6h.01M556.3 549.0h.01M547.2 580.1h.01M583.3 583.8h.01M608.3 526.3h.01M605.0 547.6h.01M578.8 580.0h.01M566.3 559.4h.01M612.0 546.2h.01M606.9 555.5h.01M577.0 520.5h.01M581.0 513.7h.01M595.7 560.7h.01M547.3 575.1h.01M613.4 521.2h.01M567.7 571.2h.01M565.3 580.2h.01M598.2 582.1h.01M590.7 529.7h.01M595.8 534.1h.01M592.9 528.5h.01M552.9 572.6h.01M556.1 570.8h.01M566.4 538.5h.01M592.4 585.7h.01M570.4 539.8h.01M595.4 579.8h.01M592.6 554.1h.01M598.2 554.5h.01M588.4 528.0h.01M585.7 546.0h.01M559.0 573.6h.01M566.9 525.3h.01M586.1 522.7h.01M593.1 532.9h.01M581.4 565.3h.01M561.9 569.0h.01M591.0 588.9h.01M605.3 532.3h.01M574.2 544.2h.01M575.2 515.7h.01M601.4 559.3h.01M606.5 544.5h.01M594.8 553.7h.01M600.2 543.8h.01M558.1 550.7h.01M573.1 522.2h.01M614.7 523.1h.01M600.9 522.5h.01M552.0 579.4h.01M595.1 546.4h.01M582.0 554.1h.01M607.2 557.9h.01M588.0 580.1h.01M583.3 532.3h.01M579.3 543.3h.01M587.9 536.1h.01M565.0 567.3h.01M579.3 564.9h.01M590.3 551.6h.01M609.2 531.2h.01M583.9 578.1h.01M569.7 549.0h.01M582.7 517.6h.01M591.1 516.1h.01M584.7 565.2h.01M562.8 565.3h.01M591.0 570.4h.01M551.7 561.7h.01M556.6 564.6h.01M579.9 552.9h.01M606.7 529.0h.01M606.2 517.1h.01M559.5 554.8h.01M596.7 584.5h.01M599.0 534.6h.01M586.2 537.9h.01M575.7 572.3h.01M585.2 520.6h.01M576.7 528.9h.01M564.9 533.1h.01M603.0 521.4h.01M594.4 518.3h.01M597.0 512.3h.01M605.2 514.1h.01M563.3 572.7h.01M584.9 574.5h.01M595.7 542.4h.01M611.1 552.4h.01M596.9 529.0h.01M592.7 543.9h.01M570.0 534.4h.01M594.6 570.9h.01M580.2 545.4h.01M610.1 543.0h.01M566.8 547.8h.01M567.7 563.5h.01M591.0 567.3h.01M577.9 585.8h.01M601.7 555.4h.01M561.1 571.4h.01M581.9 547.0h.01M572.6 556.4h.01M586.2 569.3h.01M576.6 582.9h.01M572.3 578.2h.01M598.6 523.2h.01M575.3 539.7h.01M572.8 567.3h.01M573.6 535.6h.01M578.2 548.5h.01M563.5 559.4h.01M580.2 530.9h.01M572.4 528.5h.01M587.0 563.8h.01M618.8 515.1h.01M570.9 568.1h.01M568.9 523.5h.01M552.4 568.6h.01M606.6 550.3h.01M575.6 576.7h.01M558.5 561.5h.01M567.8 540.9h.01M577.1 562.4h.01M592.9 569.1h.01M588.7 568.9h.01M599.3 515.0h.01M581.1 522.2h.01M595.7 563.5h.01M578.2 546.2h.01M581.6 570.1h.01M603.1 533.9h.01M603.7 558.0h.01M554.2 569.9h.01M602.5 517.7h.01M600.0 525.6h.01M603.1 562.1h.01M595.0 573.5h.01M613.9 537.1h.01M593.6 587.7h.01M597.3 544.7h.01M549.3 573.5h.01M586.0 533.6h.01M582.9 538.8h.01M591.0 564.1h.01M565.3 570.0h.01M561.0 557.5h.01M602.8 574.5h.01M573.2 530.5h.01M621.0 515.1h.01M582.2 561.9h.01M606.4 560.8h.01M589.5 522.6h.01M604.6 518.4h.01M572.5 520.1h.01M599.6 539.2h.01M592.2 576.0h.01M572.7 585.4h.01M593.7 524.8h.01M585.4 514.3h.01M587.2 526.1h.01M590.8 534.2h.01M616.6 526.7h.01M580.8 587.8h.01M587.9 561.3h.01M612.1 526.0h.01M582.8 527.6h.01M572.7 570.6h.01M606.1 537.5h.01M603.1 537.5h.01M558.6 543.1h.01M564.8 549.6h.01M599.4 569.6h.01M599.2 584.3h.01M576.1 564.6h.01M584.7 550.3h.01M597.4 574.9h.01M562.8 548.6h.01M591.1 582.2h.01M587.0 575.4h.01M571.9 549.1h.01M577.5 536.0h.01M555.0 559.3h.01M592.0 559.1h.01M614.7 518.9h.01M566.1 551.4h.01M567.1 545.6h.01M578.0 577.5h.01M582.0 556.5h.01M601.9 515.5h.01M567.8 536.4h.01M571.4 543.9h.01M555.0 580.6h.01M558.7 578.5h.01M594.9 527.2h.01M593.1 511.6h.01M605.6 553.0h.01M583.3 551.9h.01M576.0 578.8h.01M576.5 508.7h.01M565.7 572.2h.01M578.5 556.2h.01M589.5 540.4h.01M608.8 516.2h.01M607.3 534.5h.01M601.1 536.8h.01M569.9 554.8h.01M612.9 530.9h.01M561.3 559.7h.01M594.5 536.8h.01M581.7 574.4h.01M599.7 548.4h.01M593.9 540.7h.01M606.3 563.7h.01M603.2 525.5h.01M585.1 509.9h.01M611.3 534.7h.01M590.0 585.2h.01M589.9 510.6h.01M562.1 562.8h.01M610.3 521.5h.01M609.0 524.1h.01M557.6 583.4h.01M561.9 577.3h.01M612.4 528.3h.01M588.6 565.5h.01M576.6 551.4h.01M575.4 581.0h.01M584.4 587.1h.01M584.4 561.0h.01M598.7 560.5h.01M605.8 525.5h.01M559.0 564.6h.01M564.6 556.6h.01M593.5 550.4h.01M560.5 539.8h.01M581.4 535.1h.01M579.6 539.1h.01M566.1 584.5h.01M607.8 553.3h.01M603.5 543.3h.01M594.5 584.5h.01M575.4 567.5h.01M595.9 522.3h.01M568.4 529.3h.01M587.1 550.7h.01M610.0 547.3h.01M621.2 521.2h.01M573.5 552.0h.01M575.0 533.6h.01M590.3 555.8h.01M603.1 545.9h.01M561.6 579.5h.01M597.3 539.4h.01M577.4 567.0h.01M606.0 511.7h.01M584.7 540.1h.01M588.2 544.3h.01M563.7 535.4h.01M602.9 569.5h.01M572.8 581.4h.01M561.6 555.0h.01M600.3 581.0h.01M595.2 514.4h.01M585.9 543.8h.01M569.9 530.9h.01M553.8 568.8h.01M556.7 565.8h.01M585.0 579.2h.01M541.2 559.7h.01M571.2 575.4h.01M513.1 553.7h.01M581.6 575.5h.01M560.0 572.5h.01M505.7 552.5h.01M503.6 549.4h.01M567.2 571.5h.01M526.2 560.4h.01M535.7 558.1h.01M597.5 571.4h.01M593.4 576.6h.01M529.1 556.1h.01M522.3 558.5h.01M532.1 555.4h.01M532.5 563.9h.01M537.2 560.0h.01M508.6 549.5h.01M536.9 562.7h.01M553.6 564.1h.01M519.0 555.8h.01M570.2 577.7h.01M505.7 547.7h.01M514.3 551.1h.01M550.2 563.2h.01M563.1 571.2h.01M567.5 574.5h.01M520.6 551.9h.01M556.0 570.1h.01M518.8 558.0h.01M519.0 549.9h.01M528.4 553.2h.01M592.5 571.4h.01M583.4 580.8h.01M546.4 563.3h.01M579.4 580.4h.01M574.8 577.1h.01M582.7 577.8h.01M540.4 565.4h.01M516.5 553.5h.01M544.1 561.5h.01M548.7 561.6h.01M512.4 549.3h.01M507.8 546.6h.01M527.5 557.8h.01M589.5 577.2h.01M573.5 579.2h.01M531.2 562.2h.01M530.7 560.0h.01M548.2 565.7h.01M565.0 572.3h.01M539.9 563.2h.01M554.6 566.7h.01M596.0 575.0h.01M547.2 568.1h.01M543.7 563.8h.01M522.9 553.5h.01M509.2 555.4h.01M612.1 492.3h.01M622.1 497.3h.01M660.6 506.1h.01M660.6 534.7h.01M674.8 512.3h.01M659.6 514.2h.01M611.1 497.2h.01M603.8 494.3h.01M672.7 520.3h.01M656.2 524.4h.01M670.3 531.3h.01M672.9 529.8h.01M683.8 528.1h.01M589.2 492.4h.01M618.6 496.3h.01M664.4 516.5h.01M588.9 485.9h.01M680.3 522.6h.01M579.4 491.7h.01M629.9 504.0h.01M666.6 518.9h.01M669.8 533.5h.01M679.0 537.2h.01M692.4 511.7h.01M640.9 500.9h.01M651.9 527.0h.01M615.6 499.9h.01M591.6 488.4h.01M634.3 498.9h.01M580.3 489.3h.01M608.0 493.4h.01M663.0 508.5h.01M688.0 518.5h.01M657.8 523.0h.01M655.8 534.8h.01M676.5 515.4h.01M679.4 530.6h.01M669.4 524.7h.01M655.6 521.7h.01M681.8 516.0h.01M606.2 496.1h.01M669.6 527.1h.01M656.7 515.2h.01M651.5 532.8h.01M646.7 535.9h.01M647.4 532.8h.01M630.1 501.6h.01M623.8 495.3h.01M622.0 503.4h.01M678.1 518.0h.01M602.8 497.8h.01M674.5 532.3h.01M635.0 502.5h.01M667.0 511.3h.01M668.0 521.0h.01M690.2 516.4h.01M608.7 490.7h.01M599.6 494.4h.01M601.2 491.0h.01M671.4 537.9h.01M585.2 493.6h.01M663.1 526.1h.01M645.9 507.8h.01M650.4 503.1h.01M662.2 531.7h.01M617.7 502.2h.01M663.4 522.9h.01M626.1 501.8h.01M594.7 492.9h.01M657.3 537.0h.01M666.6 525.8h.01M682.8 521.1h.01M685.9 515.9h.01M641.8 507.7h.01M655.7 506.4h.01M662.5 519.5h.01M658.0 517.4h.01M610.1 493.2h.01M588.0 490.7h.01M651.9 535.2h.01M660.9 526.7h.01M685.9 522.2h.01M677.5 529.0h.01M655.8 519.3h.01M663.0 529.0h.01M663.9 534.2h.01M634.8 506.5h.01M657.0 510.0h.01M679.6 527.3h.01M653.4 531.4h.01M618.6 499.5h.01M593.5 486.5h.01M683.9 524.7h.01M671.5 535.5h.01M675.5 510.1h.01M592.2 495.0h.01M674.8 529.0h.01M664.4 521.0h.01M678.0 534.4h.01M584.2 491.0h.01M667.0 508.3h.01M661.6 510.8h.01M652.1 505.6h.01M595.7 488.7h.01M684.3 511.8h.01M654.8 529.5h.01M662.9 512.7h.01M585.3 487.0h.01M669.8 510.1h.01M665.2 537.4h.01M676.4 526.3h.01M678.0 512.0h.01M647.2 502.9h.01M671.2 516.6h.01M660.8 516.0h.01M667.2 531.0h.01M676.6 535.9h.01M669.2 537.7h.01M677.5 521.5h.01M650.0 530.6h.01M627.8 497.7h.01M688.3 511.8h.01M656.1 531.9h.01M671.9 532.8h.01M678.7 524.3h.01M681.3 511.7h.01M657.6 529.9h.01M587.5 494.2h.01M671.6 522.5h.01M594.6 490.7h.01M619.2 553.2h.01M630.0 541.5h.01M605.1 553.1h.01M615.0 559.8h.01M623.1 566.3h.01M626.8 545.4h.01M621.2 547.0h.01M640.8 547.0h.01M652.6 545.3h.01M607.5 544.2h.01M618.5 560.4h.01M644.1 558.0h.01M616.0 557.1h.01M613.2 551.0h.01M612.2 553.0h.01M633.5 564.6h.01M641.2 550.0h.01M636.9 554.5h.01M632.6 540.4h.01M635.0 568.9h.01M623.7 558.2h.01M616.5 554.7h.01M623.8 541.8h.01M622.5 550.1h.01M610.8 550.5h.01M624.8 562.7h.01M615.9 562.8h.01M626.1 549.4h.01M632.9 554.2h.01M644.2 561.6h.01M620.8 558.0h.01M628.9 568.1h.01M637.5 558.5h.01M626.9 558.4h.01M623.9 556.0h.01M639.3 551.6h.01M648.7 545.4h.01M645.9 549.8h.01M621.6 561.5h.01M628.6 553.7h.01M608.2 550.3h.01M617.6 549.6h.01M628.0 542.1h.01M607.7 546.7h.01M628.5 549.0h.01M646.8 553.8h.01M649.0 550.4h.01M634.1 542.9h.01M639.5 556.5h.01M604.2 548.0h.01M611.3 544.3h.01M639.9 570.2h.01M632.4 560.2h.01M623.4 553.7h.01M614.2 548.9h.01M624.3 539.0h.01M604.3 544.6h.01M645.0 552.5h.01M628.9 561.5h.01M631.1 550.4h.01M626.6 555.5h.01M643.0 554.0h.01M619.1 547.9h.01M641.2 568.2h.01M610.1 546.3h.01M636.1 563.0h.01M634.7 561.1h.01M608.2 553.7h.01M627.3 563.6h.01M626.0 540.9h.01M641.9 566.0h.01M632.7 567.7h.01M635.7 551.1h.01M620.5 564.7h.01M637.2 549.2h.01" stroke="#141414" stroke-width="1.45" stroke-linecap="round" fill="none"/>
<path d="M391.1 125.2h.01M395.6 122.9h.01M390.1 136.1h.01M385.2 136.4h.01M391.8 133.3h.01M393.7 120.9h.01M396.8 131.7h.01M389.9 121.2h.01M392.7 115.6h.01M386.5 124.6h.01M388.5 122.8h.01M395.2 124.9h.01M397.0 134.0h.01M396.8 126.3h.01M388.6 130.5h.01M393.7 137.5h.01M391.8 117.5h.01M385.3 129.2h.01M396.9 139.7h.01M393.5 126.8h.01M395.0 131.3h.01M398.4 136.9h.01M390.5 118.3h.01M391.9 137.6h.01M395.0 138.7h.01M390.6 130.7h.01M391.7 121.1h.01M394.2 141.3h.01M398.1 128.1h.01M387.2 128.3h.01M397.1 117.5h.01M392.5 129.6h.01M385.6 135.1h.01M389.7 129.6h.01M385.8 139.3h.01M390.3 123.6h.01M395.2 114.6h.01M386.8 123.0h.01M393.1 118.3h.01M397.7 130.2h.01M393.6 131.2h.01M383.7 137.8h.01M393.5 132.7h.01M397.5 123.0h.01M397.2 121.4h.01M390.4 141.5h.01M385.7 131.5h.01M389.1 127.5h.01M385.9 133.6h.01M396.4 142.1h.01M392.1 140.5h.01M386.2 137.9h.01M392.9 122.7h.01M388.4 133.2h.01M391.5 126.9h.01M389.1 140.5h.01M386.3 126.9h.01M390.9 139.3h.01M394.7 116.7h.01M387.0 131.0h.01M395.5 117.9h.01M393.0 134.6h.01M396.8 136.7h.01M389.1 117.1h.01M388.2 125.9h.01M397.8 119.3h.01M389.5 138.1h.01M394.1 129.2h.01M391.0 115.3h.01M388.1 139.3h.01M398.3 138.8h.01M388.9 120.2h.01M397.1 124.4h.01M394.6 119.7h.01M384.4 134.4h.01M395.3 134.2h.01M394.3 122.3h.01M389.1 124.3h.01M384.1 140.4h.01M445.4 156.4h.01M446.6 139.9h.01M444.8 142.2h.01M447.0 161.5h.01M452.5 159.5h.01M452.0 155.1h.01M451.8 147.6h.01M447.7 147.1h.01M447.6 158.6h.01M447.9 149.6h.01M450.9 164.9h.01M453.0 177.3h.01M445.0 151.1h.01M449.0 179.9h.01M445.6 146.5h.01M453.0 172.7h.01M444.6 139.1h.01M451.6 152.1h.01M449.6 171.1h.01M451.1 161.7h.01M447.3 144.5h.01M453.2 175.4h.01M448.8 165.3h.01M450.1 158.7h.01M448.0 178.5h.01M447.7 164.3h.01M445.4 137.8h.01M448.6 138.4h.01M446.9 155.5h.01M451.4 149.5h.01M446.4 153.2h.01M448.0 173.9h.01M449.7 178.3h.01M449.1 140.6h.01M451.9 143.8h.01M449.5 155.0h.01M448.6 156.3h.01M451.0 171.8h.01M448.4 176.1h.01M447.8 168.4h.01M450.1 153.1h.01M449.8 149.7h.01M449.2 152.1h.01M452.1 157.5h.01M446.2 171.7h.01M452.1 145.7h.01M448.3 153.3h.01M446.0 163.5h.01M447.9 170.5h.01M453.0 168.3h.01M446.0 148.5h.01M451.5 167.7h.01M450.6 166.2h.01M452.7 164.7h.01M449.5 173.8h.01M446.3 160.0h.01M448.0 142.4h.01M452.3 142.5h.01M449.9 145.1h.01M449.7 160.1h.01M449.2 167.0h.01M446.5 169.8h.01M451.8 170.4h.01M451.3 139.7h.01M446.3 142.4h.01M450.3 143.4h.01M450.4 163.4h.01M445.5 144.3h.01M446.3 167.2h.01M449.0 147.7h.01M451.7 174.5h.01M446.2 149.9h.01M452.8 166.4h.01M452.5 162.1h.01M423.6 156.9h.01M411.2 153.6h.01M406.1 149.9h.01M424.4 160.7h.01M442.8 165.2h.01M411.7 150.4h.01M436.4 161.3h.01M424.8 158.3h.01M419.8 157.4h.01M442.1 162.6h.01M403.1 146.9h.01M437.9 161.9h.01M426.0 157.5h.01M434.9 164.6h.01M409.5 153.2h.01M413.6 154.6h.01M415.5 150.7h.01M416.9 151.8h.01M429.0 158.1h.01M438.3 167.4h.01M435.4 160.2h.01M422.0 157.9h.01M426.3 161.1h.01M401.6 145.6h.01M422.6 155.1h.01M432.5 161.0h.01M438.3 163.8h.01M434.0 160.1h.01M420.5 155.1h.01M404.3 148.6h.01M426.5 155.6h.01M424.1 155.4h.01M413.7 151.1h.01M427.8 162.1h.01M431.2 160.0h.01M406.3 148.4h.01M409.6 151.7h.01M440.1 160.8h.01M416.1 154.8h.01M408.3 152.3h.01M417.8 155.3h.01M423.2 159.3h.01M434.4 163.2h.01M443.3 169.0h.01M416.0 153.0h.01M441.2 164.0h.01M440.2 168.0h.01M436.8 164.0h.01M439.6 166.3h.01M430.6 157.5h.01M412.8 149.3h.01M401.6 143.9h.01M429.4 162.2h.01M442.1 167.0h.01M426.8 159.7h.01M418.2 153.5h.01M420.7 153.4h.01M401.4 147.3h.01M405.8 145.7h.01M408.1 146.9h.01M400.3 144.6h.01M418.4 157.4h.01M407.9 150.9h.01M428.4 156.3h.01M434.6 161.5h.01M411.4 152.2h.01M410.2 149.6h.01M430.0 159.3h.01M441.1 169.2h.01M431.8 163.2h.01M407.6 148.8h.01M432.7 159.2h.01M425.0 229.9h.01M428.5 226.7h.01M399.6 239.9h.01M424.6 224.3h.01M419.6 229.3h.01M397.9 242.1h.01M410.6 238.6h.01M372.7 247.7h.01M369.2 249.5h.01M378.3 251.8h.01M370.7 254.1h.01M375.6 250.3h.01M448.1 210.6h.01M379.9 248.8h.01M417.6 233.1h.01M361.2 250.2h.01M413.9 231.9h.01M388.8 245.0h.01M447.4 205.8h.01M393.5 246.5h.01M397.3 245.1h.01M444.8 213.4h.01M432.6 226.3h.01M425.4 228.3h.01M424.1 226.9h.01M419.8 234.0h.01M426.2 227.1h.01M359.4 255.9h.01M414.8 233.2h.01M365.6 249.8h.01M442.4 217.9h.01M363.9 254.4h.01M444.5 210.6h.01M435.9 221.9h.01M407.2 236.0h.01M366.0 252.4h.01M416.6 229.6h.01M445.6 215.7h.01M368.2 256.2h.01M443.8 216.0h.01M375.1 253.8h.01M360.2 253.2h.01M423.8 229.1h.01M395.5 243.0h.01M403.5 241.4h.01M378.5 246.4h.01M390.5 245.4h.01M382.2 246.6h.01M436.2 224.0h.01M437.9 224.2h.01M361.7 253.3h.01M412.9 236.9h.01M382.5 248.4h.01M367.4 249.0h.01M386.2 246.7h.01M386.5 249.7h.01M437.4 218.5h.01M380.0 245.6h.01M395.6 245.9h.01M363.1 251.5h.01M442.2 215.5h.01M419.8 232.0h.01M445.1 208.5h.01M390.1 246.9h.01M364.6 251.6h.01M402.2 237.8h.01M405.5 241.7h.01M401.2 243.4h.01M447.1 207.3h.01M377.8 249.1h.01M440.4 222.8h.01M375.0 246.9h.01M416.0 235.6h.01M380.1 251.1h.01M377.2 247.3h.01M373.5 251.9h.01M426.7 223.9h.01M402.0 241.6h.01M409.5 235.1h.01M409.0 233.8h.01M406.5 240.7h.01M398.8 245.1h.01M431.1 223.6h.01M449.5 208.4h.01M401.5 239.4h.01M367.2 253.1h.01M372.3 249.1h.01M447.1 209.6h.01M419.5 227.8h.01M447.5 212.3h.01M429.1 222.7h.01M433.4 221.4h.01M440.2 217.2h.01M427.0 228.7h.01M412.2 233.9h.01M448.7 206.4h.01M421.7 233.1h.01M368.3 254.6h.01M416.6 231.7h.01M430.7 227.3h.01M384.2 250.4h.01M404.3 237.9h.01M370.7 250.5h.01M363.8 256.3h.01M435.4 225.4h.01M437.7 220.2h.01M440.3 220.5h.01M368.9 251.9h.01M421.9 227.2h.01M361.1 251.7h.01M409.0 237.1h.01M434.2 219.1h.01M363.4 249.7h.01M392.9 244.6h.01M431.0 220.7h.01M382.6 250.9h.01M431.7 224.9h.01M361.1 256.4h.01M405.1 236.7h.01M383.9 246.1h.01M429.0 225.2h.01M385.7 245.2h.01M388.0 248.4h.01M370.1 248.2h.01M436.1 219.5h.01M408.8 239.4h.01M357.7 253.2h.01M434.3 224.0h.01M366.5 257.2h.01M407.4 237.5h.01M413.7 235.3h.01M365.3 255.3h.01M374.2 248.5h.01M403.9 239.6h.01M442.3 212.7h.01M365.2 253.5h.01M418.1 230.6h.01M372.4 253.7h.01M398.9 243.6h.01M372.0 251.6h.01M414.6 236.6h.01M428.6 228.8h.01M381.4 250.2h.01M371.5 255.3h.01M377.5 253.1h.01M388.1 247.0h.01M377.1 250.3h.01M411.2 235.9h.01M443.5 211.9h.01M426.2 225.6h.01M415.3 230.8h.01M438.8 218.7h.01M367.1 250.5h.01M432.4 220.0h.01M405.8 239.0h.01M369.9 252.8h.01M421.3 229.5h.01M393.9 242.4h.01M433.8 227.1h.01M382.4 245.1h.01M364.0 289.2h.01M348.7 261.7h.01M348.4 263.6h.01M360.6 293.1h.01M375.3 316.1h.01M348.0 268.3h.01M366.6 296.7h.01M367.7 299.7h.01M372.8 315.3h.01M359.6 283.8h.01M359.4 291.1h.01M356.1 276.3h.01M371.2 314.8h.01M372.7 309.8h.01M365.5 294.2h.01M370.1 302.8h.01M352.5 277.9h.01M353.6 270.8h.01M356.7 283.7h.01M361.2 291.4h.01M355.3 282.8h.01M344.5 261.7h.01M350.6 271.6h.01M345.8 264.8h.01M370.2 304.7h.01M363.3 294.5h.01M355.0 278.6h.01M364.1 290.7h.01M362.8 296.1h.01M350.6 269.6h.01M357.7 280.5h.01M349.5 266.3h.01M346.8 266.9h.01M352.7 272.8h.01M350.7 267.2h.01M356.2 280.2h.01M352.0 270.0h.01M365.1 301.6h.01M376.3 318.9h.01M347.4 265.2h.01M351.1 274.4h.01M352.7 275.8h.01M374.7 318.9h.01M349.1 269.1h.01M368.6 304.1h.01M364.8 292.6h.01M359.3 287.0h.01M362.0 293.2h.01M371.3 307.9h.01M360.6 288.6h.01M362.3 286.7h.01M359.1 282.0h.01M370.0 308.8h.01M368.5 306.2h.01M364.7 295.5h.01M354.5 272.9h.01M362.6 288.6h.01M373.8 311.8h.01M354.0 274.7h.01M368.0 298.1h.01M346.9 262.5h.01M364.2 298.7h.01M372.4 312.4h.01M364.7 300.2h.01M361.1 284.6h.01M369.8 301.1h.01M346.9 260.4h.01M365.6 303.4h.01M370.7 312.8h.01M358.3 279.2h.01M373.9 313.7h.01M350.6 265.2h.01M358.8 288.7h.01M366.4 298.4h.01M368.2 301.9h.01M370.7 310.5h.01M354.0 276.6h.01M349.2 271.0h.01M298.9 263.7h.01M300.7 250.6h.01M299.8 251.9h.01M297.9 267.7h.01M300.1 258.9h.01M297.1 272.0h.01M290.7 267.5h.01M301.4 266.0h.01M300.3 254.7h.01M304.3 246.6h.01M302.3 255.8h.01M304.6 248.5h.01M302.7 258.9h.01M288.7 267.3h.01M300.8 262.7h.01M300.0 268.1h.01M303.6 253.1h.01M300.2 270.5h.01M296.8 269.5h.01M298.4 254.0h.01M298.1 260.2h.01M297.0 265.4h.01M301.5 253.2h.01M298.7 270.0h.01M294.9 272.2h.01M294.0 269.6h.01M292.2 269.0h.01M301.1 260.4h.01M302.7 248.2h.01M304.4 245.0h.01M299.0 261.8h.01M293.2 271.2h.01M299.3 265.3h.01M301.2 264.4h.01M300.6 248.4h.01M300.2 256.5h.01M293.6 267.5h.01M299.4 250.1h.01M303.7 251.3h.01M298.8 255.6h.01M295.0 268.3h.01M301.4 246.1h.01M292.1 267.6h.01M301.8 244.7h.01M513.2 196.2h.01M531.0 215.8h.01M519.3 197.5h.01M509.8 191.5h.01M517.8 197.0h.01M521.8 205.4h.01M507.4 185.9h.01M504.5 183.7h.01M518.9 202.2h.01M541.0 224.0h.01M522.1 203.2h.01M535.7 217.0h.01M528.1 210.8h.01M520.4 201.2h.01M535.5 223.0h.01M497.1 182.1h.01M529.1 214.0h.01M534.5 218.5h.01M514.8 196.3h.01M495.4 177.1h.01M521.1 199.2h.01M509.5 188.4h.01M532.8 218.7h.01M532.4 214.4h.01M534.9 219.9h.01M537.5 226.6h.01M540.9 226.8h.01M506.6 190.2h.01M502.6 181.3h.01M539.5 221.3h.01M497.6 178.5h.01M511.5 189.1h.01M518.7 199.8h.01M540.6 228.3h.01M521.8 201.5h.01M508.4 190.3h.01M507.4 188.7h.01M527.5 212.6h.01M516.1 193.8h.01M536.9 218.0h.01M502.9 185.0h.01M514.1 192.7h.01M499.3 180.7h.01M523.9 205.8h.01M537.5 224.1h.01M537.8 221.4h.01M516.3 197.3h.01M531.3 217.4h.01M524.7 208.5h.01M516.2 195.5h.01M494.6 175.6h.01M528.5 208.3h.01M513.1 191.7h.01M503.8 186.3h.01M495.9 178.6h.01M538.2 228.0h.01M505.8 184.6h.01M495.5 180.2h.01M510.7 194.1h.01M526.0 207.3h.01M498.8 182.8h.01M531.0 211.2h.01M539.6 224.1h.01M513.6 194.4h.01M537.9 219.9h.01M542.5 228.1h.01M536.2 225.4h.01M502.3 183.4h.01M531.1 218.8h.01M526.3 208.9h.01M493.7 177.7h.01M524.5 210.2h.01M532.6 212.7h.01M524.1 203.3h.01M511.5 191.7h.01M508.4 192.1h.01M500.9 184.8h.01M534.0 221.8h.01M405.4 250.4h.01M420.5 242.0h.01M407.0 250.7h.01M404.4 248.2h.01M408.5 249.4h.01M408.6 246.3h.01M412.7 247.1h.01M414.9 245.7h.01M417.0 245.9h.01M402.3 249.6h.01M418.9 245.6h.01M406.8 248.2h.01M410.3 247.7h.01M421.6 243.9h.01M416.9 244.3h.01M409.6 250.4h.01M415.8 242.8h.01M410.0 249.1h.01M411.6 248.8h.01M420.1 243.5h.01M404.0 251.3h.01M422.8 244.9h.01M400.6 250.2h.01M413.7 243.9h.01M430.3 251.6h.01M433.9 250.2h.01M429.2 250.5h.01M426.0 252.2h.01M434.0 248.6h.01M419.9 255.9h.01M421.1 258.1h.01M434.3 252.7h.01M423.8 253.4h.01M436.9 250.6h.01M432.1 251.2h.01M425.6 255.6h.01M419.1 254.1h.01M422.4 255.5h.01M421.4 254.4h.01M428.1 252.2h.01M435.1 249.5h.01M417.8 257.9h.01M425.8 253.8h.01M416.6 256.8h.01M418.2 255.8h.01M431.7 252.7h.01M419.9 258.9h.01M438.3 250.2h.01M258.8 239.5h.01M262.1 229.8h.01M257.2 240.3h.01M253.4 240.7h.01M262.0 232.4h.01M260.9 235.0h.01M259.6 241.4h.01M262.6 234.1h.01M256.9 243.1h.01M261.6 237.8h.01M254.2 242.0h.01M262.4 227.1h.01M260.4 231.3h.01M258.4 242.9h.01M255.7 240.8h.01M251.8 239.0h.01M259.2 236.9h.01M263.5 228.9h.01M256.7 252.9h.01M262.1 254.7h.01M261.6 256.7h.01M248.3 251.0h.01M238.6 244.8h.01M259.0 252.6h.01M240.0 246.8h.01M237.7 246.2h.01M241.3 244.4h.01M251.3 251.4h.01M260.6 254.6h.01M254.8 253.9h.01M265.8 258.8h.01M252.8 253.5h.01M242.9 248.7h.01M246.5 248.5h.01M245.7 249.8h.01M247.8 247.3h.01M244.1 246.2h.01M247.8 249.7h.01M258.6 254.1h.01M254.1 250.6h.01M266.2 255.6h.01M250.3 249.4h.01M239.5 243.5h.01M266.2 257.4h.01M241.9 246.4h.01" stroke="#141414" stroke-width="1.2" stroke-linecap="round" fill="none"/>
</g>

<!-- 80_labels.svg -->
<g id="labels">
<path class="ld" d="M137.5 110 L151.2 125 M241.2 60 L241.2 135 M138.8 212 L168.8 196 M327 97 L318 133 M309 62 L290 98 M359 107 L365 148 M369 90 L383 150 M381 76 L390 111 M416 282.5 L409 256 M416 282.5 L422.5 263 M386 280 L375 252.5 M394 306 L370 300 M334 294 L340 280 M314 277.5 L302.5 262.5 M301 292.5 L291 280 M125 241 L148 259 M193 218 L210 246 M212.5 307.5 L231.8 340 M268.8 383.8 L303.8 370 M190 452.5 L177.5 480 M432.5 82 L423.8 111 M495 115 L483.8 145 M483.8 210 L502.5 191 M503.8 230 L500 261 M628.8 72.5 L618.8 97.5 M657 243 L640 250 M636 343 L624 316 M444 446 L433 420 M449 478 L409 468 M658 475.5 L631 498 M476.6 649.4 L464.4 626 M360 735 L338.8 717.5"/>
<text class="n" x="133" y="108">15a-b</text>
<text class="n" x="243" y="56">32a-b</text>
<text class="n" x="132" y="221">14</text>
<text class="n" x="310" y="62">16</text>
<text class="n" x="327" y="96.5">17</text>
<text class="n" x="357" y="106.5">18</text>
<text class="n" x="367" y="90.5">19</text>
<text class="n" x="379" y="74">20</text>
<text class="n" x="415" y="293">4</text>
<text class="n" x="387.5" y="291">5</text>
<text class="n" x="400" y="310.5">6</text>
<text class="n" x="334" y="303">25</text>
<text class="n" x="317" y="287.5">7</text>
<text class="n" x="304.5" y="302.5">8</text>
<text class="n" x="120" y="242">12</text>
<text class="n" x="188" y="217">13</text>
<text class="n" x="210.5" y="306">11</text>
<text class="n" x="265" y="389.5">9</text>
<text class="n" x="172" y="495">10</text>
<text class="n" x="433" y="81">21</text>
<text class="n" x="497" y="113.5">22</text>
<text class="n" x="478" y="218">23</text>
<text class="n" x="504" y="228">24</text>
<text class="n" x="630.8" y="70.5">26</text>
<text class="n" x="664" y="245">27</text>
<text class="n" x="639" y="355">28</text>
<text class="n" x="447.4" y="454.5">2</text>
<text class="n" x="454" y="484">3</text>
<text class="n" x="663.4" y="474">33</text>
<text class="n" x="479.4" y="660.5">35</text>
<text class="n" x="368.8" y="744">34</text>
<text class="n" x="551.2" y="687">29</text>
<text class="n" x="529.2" y="738">31</text>
</g>

<!-- 90_banner.svg -->
<g id="banner">
<polygon points="360,0 435,0 0,435 0,360" fill="#3fb6e3" fill-opacity="0.5"/>
<text transform="translate(206.3,206.3) rotate(-45) scale(1.06,1)" text-anchor="middle" x="-161.3 -140.6 -120.8 -91.5 -67.9 -50.9 -32.6 -11.3 9.4 33.0 52.4 74.1 97.2 113.2 130.7 152.4 182.1" y="0" font-family="DejaVu Sans, sans-serif" font-size="37" fill="#fff" stroke="#fff" stroke-width="2.7" stroke-linejoin="round">pro-piece-vsp.com</text>
</g>

<!-- 95_logo.svg -->
<g id="logo">
<!-- car -->
<g fill="none" stroke="#3a3c55" stroke-width="1.6" stroke-linecap="round" stroke-linejoin="round">
<path d="M661 603 L722 603 L726 620 L657 620 Z"/>
<path d="M649 626 C640 632 640 640 640 650 C640 656 641 660 642 664"/>
<path d="M734 626 C742 632 742 640 742 650 C742 656 741 660 740 664"/>
<path d="M647 628 C652 634 660 640 668 644 C660 645 650 642 645 636 Z"/>
<path d="M736 628 C731 634 723 640 715 644 C723 645 733 642 738 636 Z"/>
<path d="M645 649 C660 650 670 652 691 652 C712 652 722 650 738 649"/>
<path d="M644 654 C652 656 660 660 664 666"/>
<path d="M739 654 C731 656 723 660 719 666"/>
<path d="M646 622 C640 616 632 614 630 619 C629 624 636 625 642 624"/>
<path d="M737 622 C743 616 751 614 753 619 C754 624 747 625 741 624"/>
</g>
<path d="M648 624 L657 598 C675 595 708 595 726 598 L736 624" fill="none" stroke="#e5407f" stroke-width="1.7" stroke-linecap="round" stroke-linejoin="round"/>
<!-- Pro -->
<text x="628" y="720" font-family="Liberation Sans, sans-serif" font-weight="bold" font-style="italic" font-size="64" fill="#3a3c55" stroke="#3a3c55" stroke-width="2" stroke-linejoin="round" textLength="121" lengthAdjust="spacingAndGlyphs">Pro</text>
<!-- hex nut -->
<polygon points="750,679 758.5,684 758.5,694 750,699 741.5,694 741.5,684" fill="none" stroke="#e5407f" stroke-width="4" stroke-linejoin="round"/>
<!-- group -->
<text x="692" y="684" font-family="Liberation Sans, sans-serif" font-weight="bold" font-style="italic" font-size="9" fill="#e5407f" textLength="33" lengthAdjust="spacingAndGlyphs">GROUP</text>
<path d="M682 681 H690 M727 681 H735" stroke="#e5407f" stroke-width="1.2" fill="none"/>
<!-- VSP -->
<text x="622" y="767" font-family="Liberation Sans, sans-serif" font-weight="bold" font-style="italic" font-size="57" fill="#6cc5ea" stroke="#6cc5ea" stroke-width="1.5" stroke-linejoin="round" textLength="138" lengthAdjust="spacingAndGlyphs">VSP</text>
</g>

<!-- 96_toolover.svg -->
<g opacity="0.28">
<path class="ld" d="M495 697.500 L496 695 L605 695 L606 697.500 M551 690 L551 695 M611 697.500 L612.500 695 L672 695 L673 697.500 M645 688 L645 695 M529.200 730 L529.200 718.800"/>
<path class="k" d="M495 703.500 L500 702.500 L558 702 L559 708.500 L500 708 L495 706.500 Z M495 714.500 L500 713.500 L558 713 L559 718.500 L500 718 L495 717 Z" stroke-width="1"/>
<path d="M502 705.300 L556 705.300 M502 715.800 L556 715.800" stroke="#141414" stroke-width="2.4" stroke-dasharray="1.2 1.3" fill="none"/>
<path class="k" d="M562.500 707.500 L566 703.800 L605 703.800 L605 713.800 L566 713.800 L562.500 710 Z M605 702.500 L608.800 702.500 L608.800 715 L605 715 Z"/>
<path class="k" d="M620 699 L642.500 699 L644 704 L675 705 L683 709.500 L675 714 L644 714 L642 722 L622 722 L620 714 L611 714 L611 705 L619 705 Z"/>
<path class="l" d="M623 703 L640 703 L640 718 L623 718 Z M626 706 L632 706 L632 715 L626 715 Z M644 704 L644 714 M611 707 L605 707 M611 712 L605 712 M646 717 L649 717 L649 714"/>
<path class="k" d="M627.500 723.800 L640 722.500 L652.500 762.500 L645 765 L635 742.500 L630 725 Z"/>
<path class="k" d="M620 720 L623.800 723.800 L610 757.500 L603.800 756.200 Z"/>
</g>
<text class="n" x="645" y="686" opacity="0.75">30</text>

</svg>
</body>
</html>
